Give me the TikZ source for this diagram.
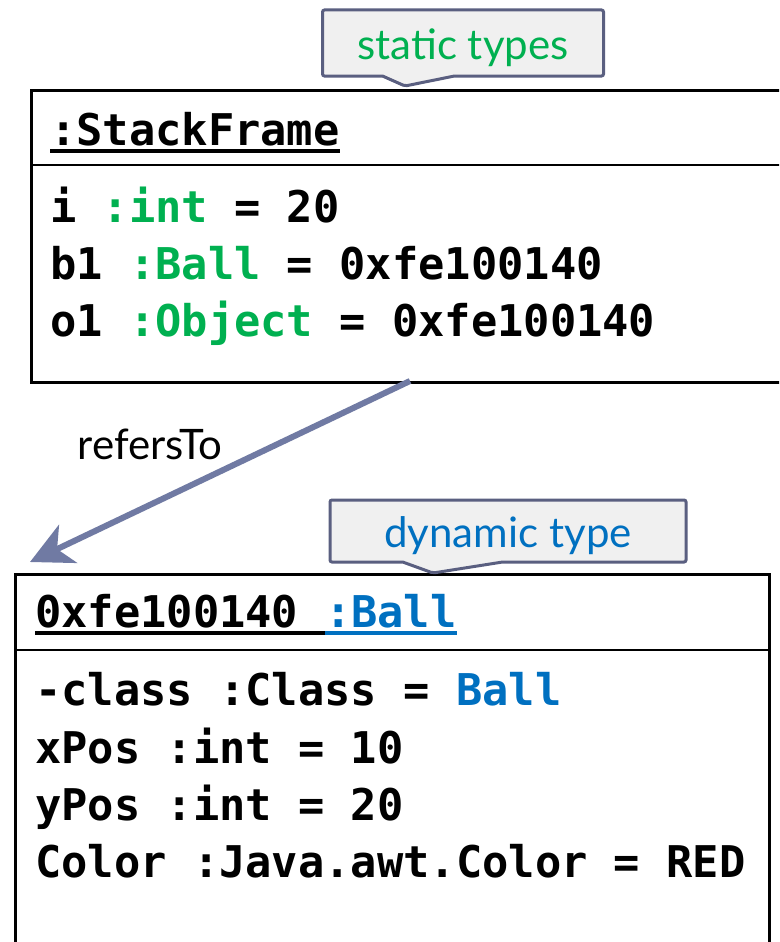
\documentclass[tikz,border=0pt]{standalone}
\usepackage{fontspec}
\setmainfont{Lato}
\newfontfamily\codefont{DejaVu Sans Mono}
\usepackage{xcolor}
\usetikzlibrary{shapes,shapes.callouts,arrows.meta,positioning,calc}

\definecolor{typegreen}{RGB}{0,176,80}
\definecolor{typeblue}{RGB}{0,112,192}
\definecolor{notegray}{RGB}{90,95,128}
\definecolor{notefill}{RGB}{240,240,240}
\definecolor{refgray}{RGB}{112,122,163}

\newcommand{\lowered}[1]{\raisebox{-5pt}[\height][\depth]{#1}}

\begin{document}
\begin{tikzpicture}[
    x=1pt, y=-1pt,
    box/.style={rectangle, draw, line width=2.5pt, anchor=north west},
    code/.style={font=\codefont\bfseries\fontsize{43.7}{52}\selectfont, inner sep=0pt, anchor=base west},
    note/.style={rectangle callout, draw=notegray, fill=notefill, line width=3pt, rounded corners=2pt, font=\fontsize{42}{46}\selectfont, inner sep=0pt},
    uline/.style={line width=3.5pt},
    arrow/.style={-{Stealth[length=42pt,width=42pt,inset=12pt]}, line width=6pt, draw=refgray}
]
    \clip (0,0) rectangle (779,942);
    \fill[white] (0,0) rectangle (779,942);

    \node[box, minimum width=790pt, minimum height=292pt] (frame) at (30,89) {};
    \draw[line width=2.5pt] ([yshift=-76pt]frame.north west) -- ([yshift=-76pt]frame.north east);
    \node[code] (framehead) at (50,145) {:StackFrame};
    \draw[uline] ([yshift=-6pt]framehead.base west) -- ([yshift=-6pt]framehead.base east);
    \node[code] (vari) at (50,222) {i \textcolor{typegreen}{:int} = 20};
    \node[code] (varb) at (50,279) {b1 \textcolor{typegreen}{:Ball} = 0xfe100140};
    \node[code] (varo) at (50,336) {o1 \textcolor{typegreen}{:Object} = 0xfe100140};

    \node[box, minimum width=754pt, minimum height=420pt] (obj) at (14,573) {};
    \draw[line width=2.5pt] ([yshift=-77pt]obj.north west) -- ([yshift=-77pt]obj.north east);
    \node[code] (objaddr) at (35,627) {0xfe100140\kern0.602em};
    \node[code, text=typeblue] (objtype) at (objaddr.base east) {:Ball};
    \draw[uline] ([yshift=-6pt]objaddr.base west) -- ([yshift=-6pt]objaddr.base east);
    \draw[uline, typeblue] ([yshift=-6pt]objtype.base west) -- ([yshift=-6pt]objtype.base east);
    \node[code] (fclass) at (35,705) {-class :Class = \textcolor{typeblue}{Ball}};
    \node[code] (fxpos) at (35,763) {xPos :int = 10};
    \node[code] (fypos) at (35,820) {yPos :int = 20};
    \node[code] (fcolor) at (35,877) {Color :Java.awt.Color = RED};

    \node[note, minimum width=281pt, minimum height=66pt, text=typegreen,
        callout absolute pointer={(405,86)}, callout pointer width=72pt] (statnote) at (463,43) {\lowered{static types}};
    \node[note, minimum width=356pt, minimum height=62pt, text=typeblue,
        callout absolute pointer={(433,573)}, callout pointer width=100pt] (dynnote) at (508,531) {\lowered{dynamic type}};

    \coordinate (refstart) at (410,381);
    \coordinate (refend) at (30,562);
    \draw[arrow] (refstart) -- node[pos=0.48, anchor=base east, inner sep=0pt, xshift=-2pt, yshift=8pt, text=black, font=\fontsize{42}{46}\selectfont] (reflabel) {refersTo} (refend);
\end{tikzpicture}
\end{document}
